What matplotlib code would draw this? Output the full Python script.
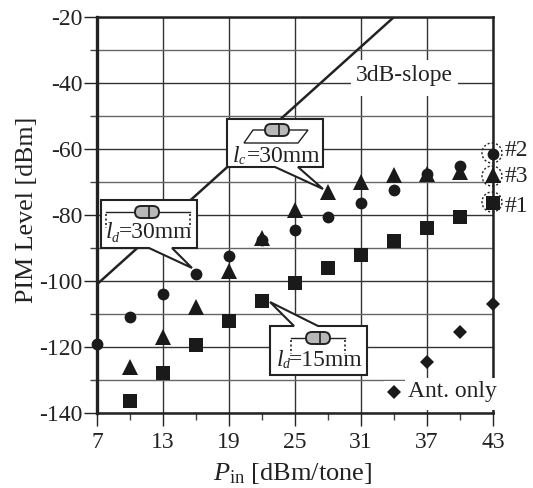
import matplotlib
matplotlib.use('Agg')
import matplotlib.pyplot as plt
from matplotlib.patches import Polygon, Rectangle, FancyBboxPatch, Ellipse

plt.rcParams['font.family'] = 'Liberation Serif'
plt.rcParams['mathtext.fontset'] = 'custom'
plt.rcParams['mathtext.rm'] = 'Liberation Serif'
plt.rcParams['mathtext.it'] = 'Liberation Serif:italic'

# data
x_circle = [7, 10, 13, 16, 19, 22, 25, 28, 31, 34, 37, 40, 43]
y_circle = [-119, -111, -104, -98, -92.5, -87.5, -84.5, -80.5, -76.5, -72.5, -67.5, -65, -61.5]
x_tri = [10, 13, 16, 19, 22, 25, 28, 31, 34, 37, 40, 43]
y_tri = [-126, -117, -108, -97, -87, -78.5, -73, -70, -68, -67.5, -67, -68]
x_sq = [10, 13, 16, 19, 22, 25, 28, 31, 34, 37, 40, 43]
y_sq = [-136.5, -128, -119.5, -112, -106, -100.5, -96, -92, -88, -84, -80.5, -76.5]
x_ant = [37, 40, 43]
y_ant = [-124.5, -115.5, -107]
x_slope = [7, 34]
y_slope = [-101, -20]
x_ticks = [7, 13, 19, 25, 31, 37, 43]
x_minor = [10, 16, 22, 28, 34, 40]
y_ticks = [-140, -120, -100, -80, -60, -40, -20]
y_minor = [-130, -110, -90, -70, -50, -30]

W, H = 533, 488
INK = '#222222'
fig = plt.figure(figsize=(W / 100, H / 100), dpi=100)
ax = fig.add_axes([97 / W, 1 - 413 / H, (493 - 97) / W, (413 - 17) / H])
ax.set_xlim(7, 43)
ax.set_ylim(-140, -20)

ax.set_xticks(x_ticks)
ax.set_xticks(x_minor, minor=True)
ax.set_yticks(y_ticks)
ax.set_yticks(y_minor, minor=True)
ax.tick_params(axis='both', which='major', length=9.5, width=1.0, labelsize=17, color=INK, labelcolor=INK)
ax.tick_params(axis='both', which='minor', length=5, width=1.0, color='#444444')
ax.tick_params(axis='x', pad=4.5)
ax.tick_params(axis='y', pad=1)
ax.set_yticklabels([str(v) for v in y_ticks])

ax.grid(axis='x', which='major', color='#333333', lw=1.0)
ax.grid(axis='y', which='major', color='#333333', lw=1.0)
ax.grid(axis='y', which='minor', color='#666666', lw=1.0)
ax.set_axisbelow(True)

ax.spines['left'].set_linewidth(2.4)
for s in ['top', 'right', 'bottom']:
    ax.spines[s].set_linewidth(1.8)
for s in ax.spines.values():
    s.set_color(INK)

ax.plot(x_slope, y_slope, color=INK, lw=1.8, zorder=2)
ax.plot(x_circle, y_circle, 'o', color='#1a1a1a', ms=8.5, mew=0, clip_on=False, zorder=4)
ax.plot(x_tri, y_tri, '^', color='#1a1a1a', ms=11, mew=0, clip_on=False, zorder=4)
ax.plot(x_sq, y_sq, 's', color='#1a1a1a', ms=9.5, mew=0, clip_on=False, zorder=4)
ax.plot(x_ant, y_ant, 'D', color='#1a1a1a', ms=7, mew=0, clip_on=False, zorder=4)

# annotations in pixel coords
ov = fig.add_axes([0, 0, 1, 1], facecolor='none')
ov.set_xlim(0, W)
ov.set_ylim(H, 0)
ov.axis('off')

ov.text(27, 210, 'PIM Level [dBm]', fontsize=18.7, rotation=90, ha='center', va='center', color=INK)
ov.text(293, 474, r'$\mathit{P}_{\mathrm{in}}$ [dBm/tone]', fontsize=19, ha='center', va='center', color=INK)


def callout(pts):
    ov.add_patch(Polygon(pts, closed=True, fc='white', ec=INK, lw=1.5, joinstyle='miter'))


def pill(cx, cy):
    ov.add_patch(FancyBboxPatch((cx - 12, cy - 6), 24, 12, boxstyle='round,pad=0,rounding_size=6',
                                mutation_scale=1, fc='#b8b8b8', ec=INK, lw=1.4, zorder=5))
    ov.plot([cx + 2, cx + 2], [cy - 6, cy + 6], color=INK, lw=1.2, zorder=6)


def resistor(x0, x1, cx, cy):
    ov.plot([x0, x1], [cy, cy], color=INK, lw=1.0, zorder=4)
    pill(cx, cy)
    ov.plot([x0, x0], [cy + 2, cy + 16], color=INK, lw=1.2, ls=(0, (1.2, 1.5)))
    ov.plot([x1, x1], [cy + 2, cy + 16], color=INK, lw=1.2, ls=(0, (1.2, 1.5)))


def length_label(x0, x1, y, sub, rest):
    # l, subscript and the rest are placed apart since the subscript runs into the = sign
    ov.text(x0, y, 'l', fontsize=17, fontstyle='italic', ha='left', va='center', color=INK)
    ov.text(x0 + 6, y + 5, sub, fontsize=10, fontstyle='italic', ha='left', va='center', color=INK)
    ov.text(x1, y, rest, fontsize=17, ha='right', va='center', color=INK)


# lc box
callout([(227, 119), (323, 119), (323, 167), (298, 167), (323, 189), (275, 167), (227, 167)])
ov.add_patch(Polygon([(244, 143), (253, 130), (308, 130), (298, 143)], closed=True, fc='white', ec=INK, lw=1.0))
pill(277, 130)
length_label(233, 320, 156, 'c', '=30mm')

# ld 30 box
callout([(101, 200), (197, 200), (197, 248), (172, 248), (192, 268), (149, 248), (101, 248)])
resistor(106, 190, 147, 212)
length_label(106, 192, 233, 'd', '=30mm')

# ld 15 box
callout([(270, 326), (294, 326), (270, 302), (318, 326), (367, 326), (367, 375), (270, 375)])
resistor(291, 345, 318, 338)
length_label(277, 363, 360, 'd', '=15mm')

# 3dB-slope label
ov.add_patch(Rectangle((351, 60), 107, 36, fc='white', ec='none'))
ov.text(404, 76, '3dB-slope', fontsize=17, ha='center', va='center', color=INK)

# legend for antenna
ov.add_patch(Rectangle((405, 378), 93, 32, fc='white', ec='none'))
ov.add_patch(Rectangle((384, 381), 25, 29, fc='white', ec='none'))
ov.plot([394], [392], 'D', color='#1a1a1a', ms=7, mew=0)
ov.text(408, 392, 'Ant. only', fontsize=17, ha='left', va='center', color=INK)

# dotted circles and numbers
for cy, ly, lab in [(153, 151, '#2'), (176, 177, '#3'), (202, 206, '#1')]:
    ov.add_patch(Ellipse((492, cy), 20, 20, fc='none', ec=INK, lw=1.0, ls=(0, (1.5, 1.5))))
    ov.text(505, ly, lab, fontsize=17, ha='left', va='center', color=INK)

fig.savefig('out.png', dpi=100)
